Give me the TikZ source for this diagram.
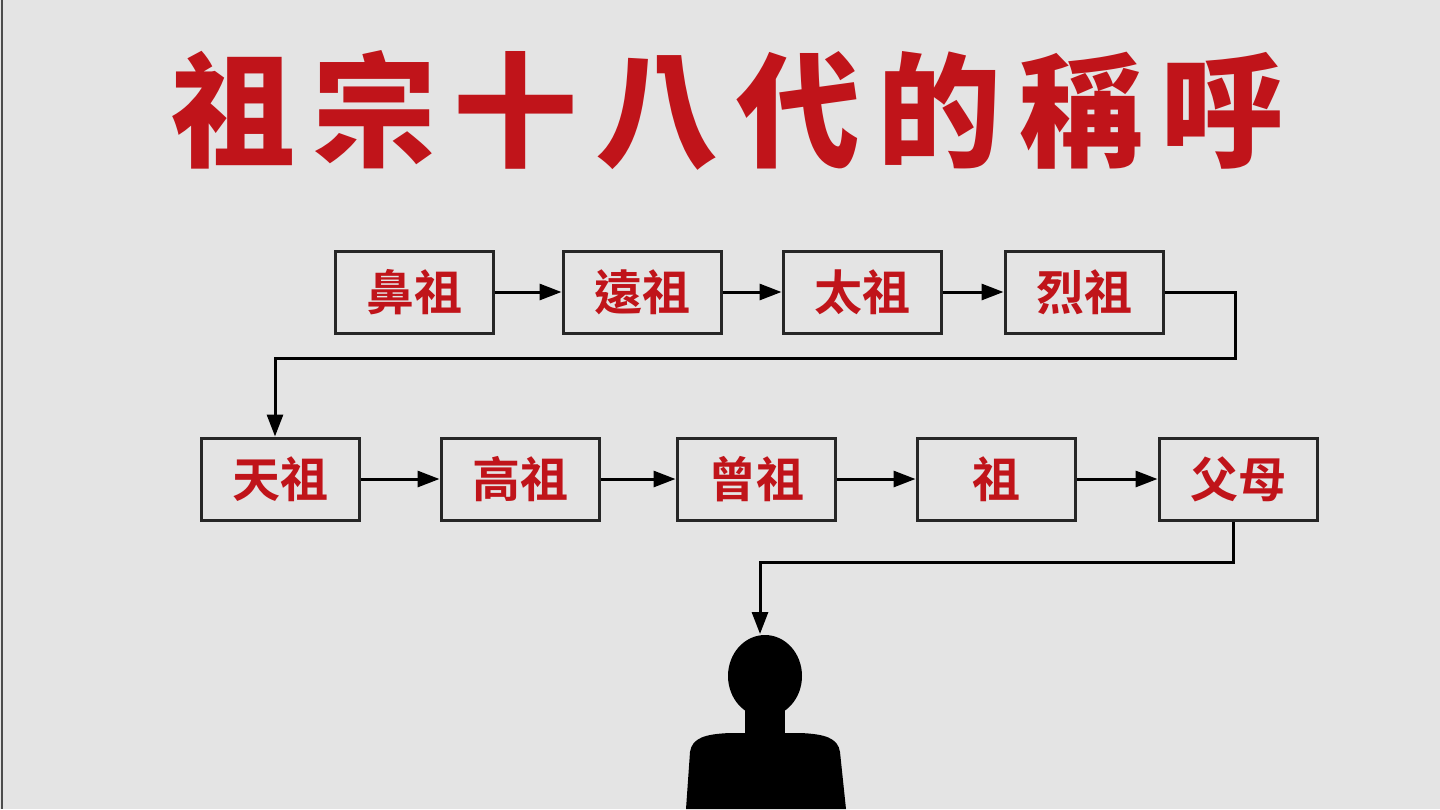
\documentclass[tikz,border=0pt]{standalone}
\usepackage{fontspec}
\newfontfamily\cjk{Noto Sans CJK TC Bold}
\newfontfamily\cjkb{Noto Sans CJK TC Black}[LetterSpace=14]
\usetikzlibrary{arrows.meta}
\definecolor{bg}{HTML}{E4E4E4}
\definecolor{tred}{HTML}{C0141A}
\begin{document}
\begin{tikzpicture}[x=1pt,y=-1pt,
  gen/.style={draw=black!85,line width=3pt,fill=bg,minimum width=158pt,minimum height=82pt,inner sep=0pt,font=\cjk\fontsize{48}{48}\selectfont,text=tred},
  link/.style={line width=3pt,-{Triangle[length=22pt,width=16pt]}}]
\fill[bg] (0,0) rectangle (1440,809);
\useasboundingbox (0,0) rectangle (1440,809);
\draw[black!70,line width=2pt] (2,0) -- (2,809);
\node[text=tred,font=\cjkb\fontsize{124}{124}\selectfont] (title) at (728,110) {祖宗十八代的稱呼};
\node[gen] (a1) at (414,292) {鼻祖};
\node[gen] (a2) at (642,292) {遠祖};
\node[gen] (a3) at (862,292) {太祖};
\node[gen] (a4) at (1084,292) {烈祖};
\node[gen] (b1) at (280,479) {天祖};
\node[gen] (b2) at (520,479) {高祖};
\node[gen] (b3) at (756,479) {曾祖};
\node[gen] (b4) at (996,479) {祖};
\node[gen] (b5) at (1238,479) {父母};
\draw[link] (a1) -- (a2);
\draw[link] (a2) -- (a3);
\draw[link] (a3) -- (a4);
\draw[link] (b1) -- (b2);
\draw[link] (b2) -- (b3);
\draw[link] (b3) -- (b4);
\draw[link] (b4) -- (b5);
\coordinate (me) at (760,634);
\draw[link] (a4.east) -- (1235,292) -- (1235,358) -- (275,358) -- (b1.north -| 275,0);
\draw[link] (b5.south -| 1233,0) -- (1233,562) -- (760,562) -- (me);
\fill[black] (765,676) ellipse (37pt and 41pt);
\fill[black] (745,705) rectangle (785,740);
\fill[black] (686,809) -- (690,752) .. controls (692,738) and (705,734) .. (730,733) -- (800,733) .. controls (825,734) and (838,738) .. (840,752) -- (846,809) -- cycle;
\end{tikzpicture}
\end{document}
